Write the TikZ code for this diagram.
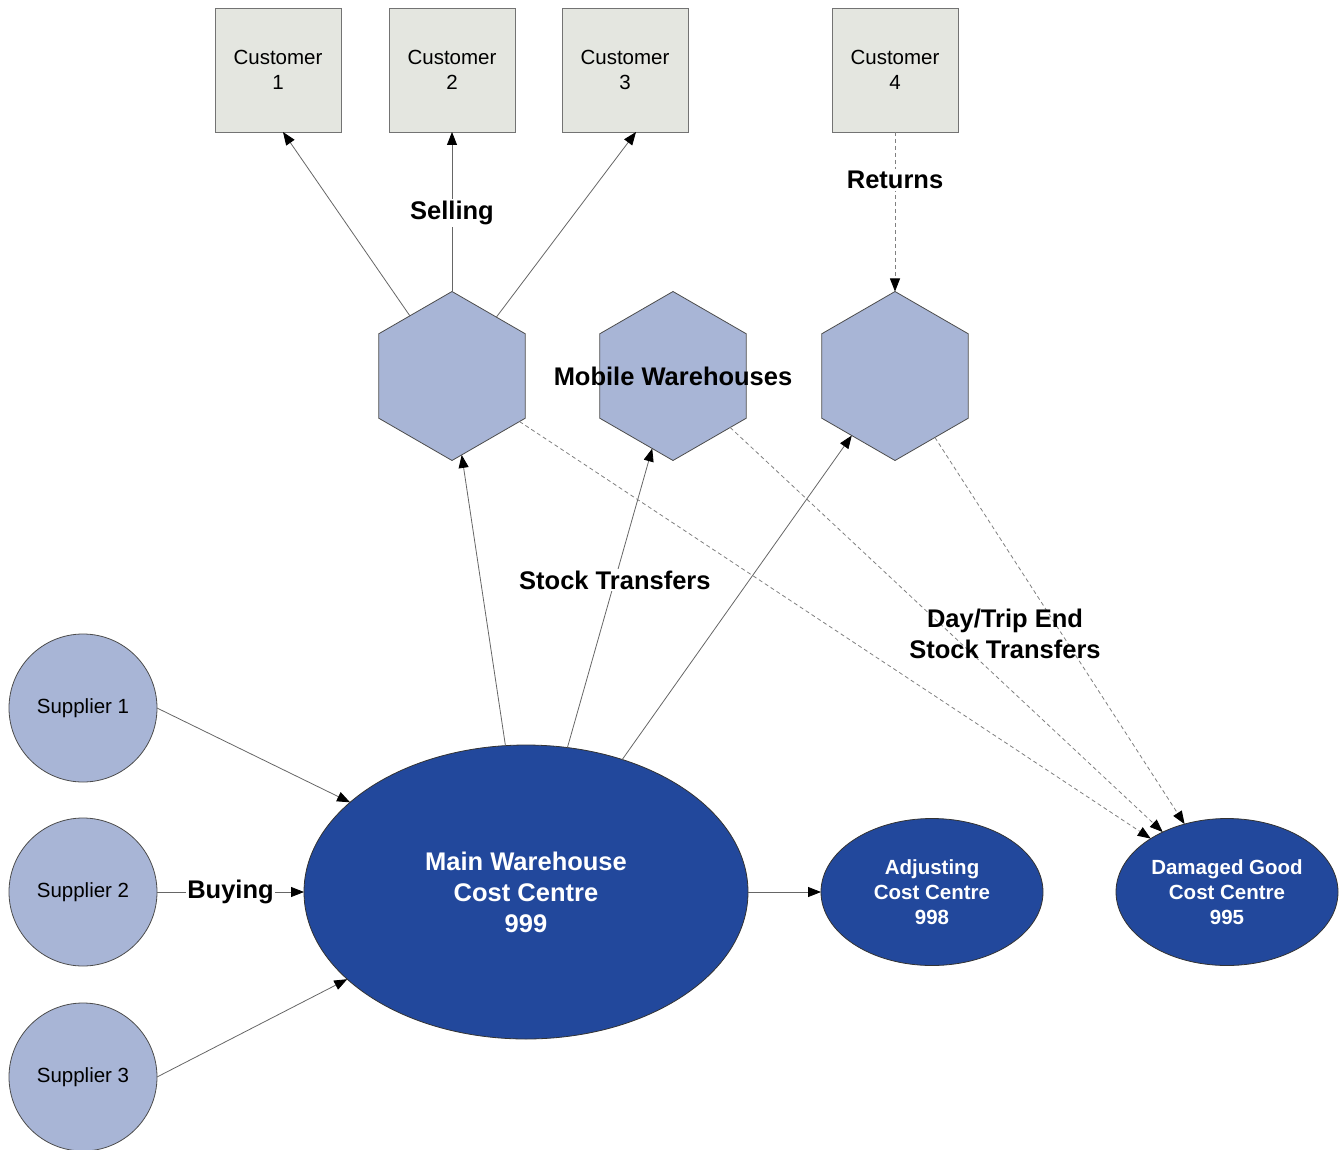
\documentclass[tikz,border=0pt]{standalone}
\usepackage{fontspec}
\setmainfont{Liberation Sans}
\usetikzlibrary{shapes.geometric,arrows.meta}
\definecolor{custfill}{HTML}{E4E6E0}
\definecolor{hexfill}{HTML}{A8B5D6}
\definecolor{darkblue}{HTML}{22489C}
\definecolor{linegray}{HTML}{666666}
\tikzset{
  custbox/.style={draw=gray!90!black, fill=custfill, minimum width=126pt, minimum height=124pt, inner sep=0pt, outer sep=0pt, align=center, font=\fontsize{20.5}{25}\selectfont, line width=0.8pt},
  hexnode/.style={regular polygon, regular polygon sides=6, shape border rotate=30, draw=black!70, fill=hexfill, minimum size=169pt, inner sep=0pt, outer sep=0pt, line width=0.8pt},
  supnode/.style={circle, draw=black!70, fill=hexfill, minimum size=148pt, inner sep=0pt, outer sep=0pt, font=\fontsize{20.5}{25}\selectfont, line width=0.8pt},
  bignode/.style={ellipse, draw=black!80, fill=darkblue, text=white, inner sep=0pt, outer sep=0pt, align=center, font=\bfseries\fontsize{25.5}{31}\selectfont, line width=0.8pt},
  smallell/.style={ellipse, draw=black!80, fill=darkblue, text=white, inner sep=0pt, outer sep=0pt, align=center, font=\bfseries\fontsize{20.5}{25}\selectfont, line width=0.8pt, minimum width=222pt, minimum height=147pt},
  conn/.style={draw=linegray, line width=0.8pt, -{Triangle[length=13pt,width=10pt,fill=black,color=black]}},
  dconn/.style={conn, draw=gray, dash pattern=on 4pt off 3pt},
  lbl/.style={font=\bfseries\fontsize{25.5}{31}\selectfont, align=center, inner sep=2pt},
  wlbl/.style={lbl, fill=white},
}
\begin{document}
\begin{tikzpicture}[x=1pt,y=-1pt]
\useasboundingbox (0,0) rectangle (1340,1150);
% customers
\node[custbox] (c1) at (278,70) {Customer\\1};
\node[custbox] (c2) at (452,70) {Customer\\2};
\node[custbox] (c3) at (625,70) {Customer\\3};
\node[custbox] (c4) at (895,70) {Customer\\4};
% hexagons
\node[hexnode] (h1) at (452,376) {};
\node[hexnode] (h2) at (673,376) {};
\node[hexnode] (h3) at (895,376) {};
% suppliers
\node[supnode] (s1) at (83,708) {Supplier 1};
\node[supnode] (s2) at (83,892) {Supplier 2};
\node[supnode] (s3) at (83,1077) {Supplier 3};
% cost centres
\node[bignode, minimum width=444pt, minimum height=294pt] (m) at (526,892) {Main Warehouse\\Cost Centre\\999};
\node[smallell] (adj) at (932,892) {Adjusting\\Cost Centre\\998};
\node[smallell] (dam) at (1227,892) {Damaged Good\\Cost Centre\\995};
% selling
\draw[conn] (h1.125) -- ([xshift=5pt]c1.south);
\draw[conn] (h1.north) -- node[wlbl, pos=0.49] (sell) {Selling} (c2.south);
\draw[conn] (h1.53) -- ([xshift=11pt]c3.south);
% returns
\draw[dconn] (c4.south) -- node[wlbl, pos=0.3] (ret) {Returns} (h3.north);
% stock transfers
\draw[conn] (m.98) -- (h1.-83);
\draw[conn] (m.74) -- node[wlbl, pos=0.56] (st) {Stock Transfers} (h2.-106);
\draw[conn] (m.54) -- (h3.-126);
% day trip
\draw[dconn] (h1.-34) -- (dam.145);
\draw[dconn] (h2.-42) -- (dam.137);
\draw[dconn] (h3.-57) -- (dam.122.5);
% buying
\draw[conn] (s1.east) -- (m.153.4);
\draw[conn] (s2.east) -- node[wlbl, pos=0.5, inner sep=1pt] (buy) {Buying} (m.west);
\draw[conn] (s3.east) -- (m.206.8);
% adjusting
\draw[conn] (m.east) -- (adj.west);
% labels
\node[lbl] (mw) at (673,376) {Mobile Warehouses};
\node[lbl] (dt) at (1005,634) {Day/Trip End\\Stock Transfers};
\end{tikzpicture}
\end{document}
